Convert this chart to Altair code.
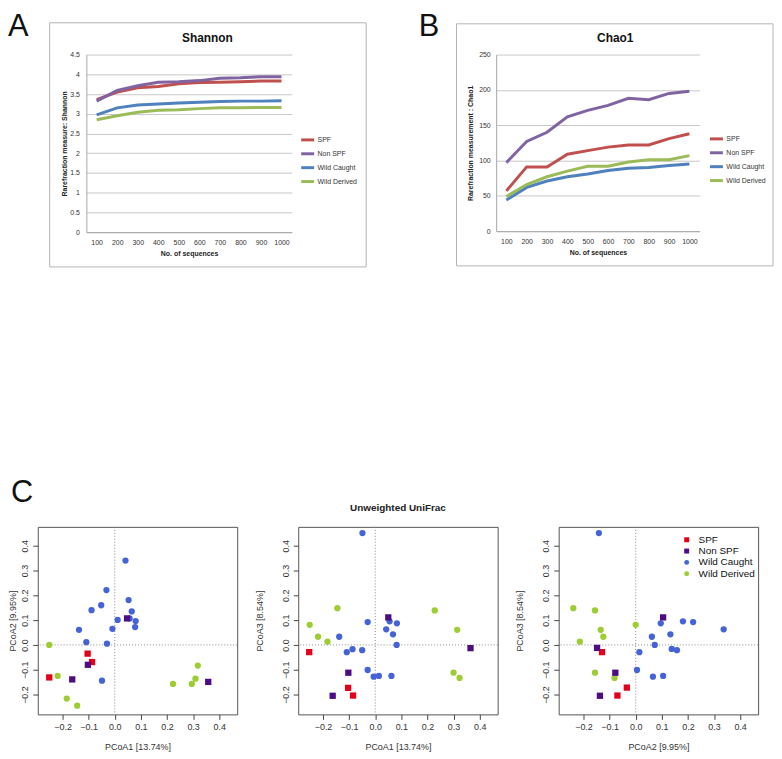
import altair as alt
import pandas as pd

FONT = "Liberation Sans"

# ---------------- data ----------------
seqs = [100, 200, 300, 400, 500, 600, 700, 800, 900, 1000]
groups = ["SPF", "Non SPF", "Wild Caught", "Wild Derived"]

shannon_spf = [3.36, 3.55, 3.66, 3.69, 3.76, 3.79, 3.80, 3.81, 3.83, 3.83]
shannon_nonspf = [3.32, 3.59, 3.71, 3.80, 3.81, 3.84, 3.90, 3.91, 3.94, 3.94]
shannon_wc = [2.97, 3.15, 3.22, 3.25, 3.27, 3.29, 3.31, 3.32, 3.32, 3.33]
shannon_wd = [2.85, 2.95, 3.04, 3.09, 3.10, 3.13, 3.15, 3.15, 3.16, 3.16]

chao_spf = [57, 91, 91, 109, 114, 119, 122, 122, 131, 138]
chao_nonspf = [97, 127, 140, 162, 171, 178, 188, 186, 195, 198]
chao_wc = [44, 62, 71, 77, 81, 86, 89, 90, 93, 95]
chao_wd = [49, 66, 77, 85, 92, 92, 98, 101, 101, 107]

shannon_ticks = [0, 0.5, 1, 1.5, 2, 2.5, 3, 3.5, 4, 4.5]
chao_ticks = [0, 50, 100, 150, 200, 250]
pcoa_ticks = [-0.2, -0.1, 0.0, 0.1, 0.2, 0.3, 0.4]

# PCoA1 vs PCoA2
p1_group = (["Wild Caught"] * 15 + ["Wild Derived"] * 8 + ["SPF"] * 3 + ["Non SPF"] * 4)
p1_x = [0.041, -0.032, 0.053, -0.052, -0.089, 0.065, 0.011, 0.057, 0.080, 0.078,
        -0.137, -0.009, -0.109, -0.030, -0.049,
        -0.251, -0.219, -0.184, -0.144, 0.223, 0.295, 0.309, 0.318,
        -0.104, -0.087, -0.251,
        0.047, -0.103, -0.163, 0.358]
p1_y = [0.340, 0.221, 0.181, 0.160, 0.140, 0.135, 0.101, 0.107, 0.096, 0.072,
        0.061, 0.065, 0.011, 0.005, -0.144,
        0.000, -0.125, -0.216, -0.245, -0.157, -0.157, -0.136, -0.083,
        -0.035, -0.069, -0.131,
        0.107, -0.080, -0.139, -0.149]

# PCoA1 vs PCoA3
p2_group = (["Wild Caught"] * 15 + ["Wild Derived"] * 8 + ["SPF"] * 3 + ["Non SPF"] * 4)
p2_x = [-0.049, -0.029, -0.138, -0.109, -0.087, -0.050, 0.042, 0.055, 0.083, 0.068,
        0.082, -0.029, -0.006, 0.014, 0.062,
        -0.251, -0.219, -0.183, -0.145, 0.228, 0.314, 0.300, 0.323,
        -0.253, -0.104, -0.085,
        0.050, -0.103, -0.163, 0.365]
p2_y = [0.451, 0.092, 0.033, -0.029, -0.017, -0.021, 0.063, 0.095, 0.087, 0.043,
        0.000, -0.101, -0.128, -0.125, -0.125,
        0.081, 0.033, 0.013, 0.148, 0.139, 0.061, -0.112, -0.133,
        -0.029, -0.173, -0.204,
        0.111, -0.112, -0.205, -0.013]

# PCoA2 vs PCoA3
p3_group = (["Wild Caught"] * 14 + ["Wild Derived"] * 8 + ["SPF"] * 3 + ["Non SPF"] * 4)
p3_x = [-0.141, 0.096, 0.181, 0.220, 0.337, 0.062, 0.133, 0.073, 0.014, 0.138,
        0.158, 0.005, 0.066, 0.105,
        -0.239, -0.156, -0.134, -0.124, -0.214, 0.000, -0.156, -0.081,
        -0.129, -0.034, -0.070,
        0.105, -0.148, -0.078, -0.137]
p3_y = [0.451, 0.087, 0.095, 0.092, 0.063, 0.033, 0.043, 0.000, -0.029, -0.016,
        -0.021, -0.101, -0.128, -0.125,
        0.148, 0.139, 0.061, 0.033, 0.013, 0.081, -0.112, -0.133,
        -0.029, -0.172, -0.204,
        0.111, -0.012, -0.112, -0.205]

excel_colors = ["#C0504D", "#8064A2", "#4F81BD", "#9BBB59"]
r_colors = ["#E3001B", "#4B0C86", "#4563D6", "#9DCC33"]
r_shapes = ["square", "square", "circle", "circle"]

one = pd.DataFrame({"k": [0]})
origin = pd.DataFrame({"x": [0.0], "y": [0.0]})


def long_df(series):
    rows = []
    for g, vals in zip(groups, series):
        for s, v in zip(seqs, vals):
            rows.append({"seq": s, "group": g, "value": v})
    return pd.DataFrame(rows)


def text_layer(txt, x, y, size, weight="normal", align="left", baseline="alphabetic", opacity=1.0, color="#111"):
    return alt.Chart(one).mark_text(
        text=txt, fontSize=size, fontWeight=weight, align=align, baseline=baseline,
        font=FONT, color=color, opacity=opacity
    ).encode(x=alt.value(x), y=alt.value(y))


def excel_panel(df, title, ytitle, ymax, yticks, yfmt, letter, frame, w, h, leg, title_xy,
                letter_xy, ytitle_pad, ylabel_pad):
    frame_l = alt.Chart(one).mark_rect(filled=False, stroke="#B3B3B3", strokeWidth=1).encode(
        x=alt.value(frame[0]), x2=alt.value(frame[1]), y=alt.value(frame[2]), y2=alt.value(frame[3]))
    lines = alt.Chart(df).mark_line(strokeWidth=3).encode(
        x=alt.X("seq:O", scale=alt.Scale(type="point", padding=0.5),
                axis=alt.Axis(title="No. of sequences", labelAngle=0, labelFontSize=7, labelColor="#333",
                              titleFontSize=7, titleFontWeight="bold", titleColor="#222",
                              domainColor="#A6A6A6", ticks=False, tickSize=0, labelPadding=6,
                              titlePadding=5, grid=False)),
        y=alt.Y("value:Q", scale=alt.Scale(domain=[0, ymax], nice=False),
                axis=alt.Axis(values=yticks, format=yfmt, grid=True, gridColor="#C8C8C8",
                              domainColor="#A6A6A6", ticks=False, tickSize=0, labelFontSize=7,
                              labelColor="#333", labelPadding=ylabel_pad, title=ytitle,
                              titleFontSize=7, titleFontWeight="bold", titleColor="#222",
                              titlePadding=ytitle_pad)),
        color=alt.Color("group:N", scale=alt.Scale(domain=groups, range=excel_colors),
                        legend=alt.Legend(orient="none", legendX=leg[0], legendY=leg[1], title=None,
                                          symbolType="stroke", symbolStrokeWidth=3, symbolSize=169,
                                          labelFontSize=7, labelColor="#333", rowPadding=0,
                                          labelOffset=2)),
    )
    t = text_layer(title, title_xy[0], title_xy[1], 12, weight="bold", align="center", baseline="middle")
    l = text_layer(letter, letter_xy[0], letter_xy[1], 31)
    return alt.layer(frame_l, lines, t, l).properties(width=w, height=h)


XDOM = [-0.295, 0.469]
YDOM = [-0.28, 0.476]


def scatter_panel(xs, ys, gs, xtitle, ytitle, show_legend, ytitle_pad, extra):
    df = pd.DataFrame({"x": xs, "y": ys, "group": gs})
    if show_legend:
        leg = alt.Legend(orient="none", legendX=124, legendY=8, title=None, labelFontSize=10,
                         labelColor="#111", symbolSize=25, rowPadding=1.4, labelOffset=7)
    else:
        leg = None
    x_axis = alt.Axis(values=pcoa_ticks, format=".1f", labelFontSize=9, labelColor="#333",
                      labelOverlap=False, tickColor="#444", tickSize=5, domain=False,
                      grid=False, labelPadding=3, title=xtitle, titleFontSize=9,
                      titleFontWeight="normal", titleColor="#333", titlePadding=11)
    y_axis = alt.Axis(values=pcoa_ticks, format=".1f", labelFontSize=9, labelColor="#333",
                      labelAngle=270, labelAlign="center", labelBaseline="bottom",
                      labelOverlap=False, tickColor="#444", tickSize=5, domain=False,
                      grid=False, labelPadding=3, title=ytitle, titleFontSize=9,
                      titleFontWeight="normal", titleColor="#333", titlePadding=ytitle_pad)
    x_sc = alt.Scale(domain=XDOM, nice=False, zero=False)
    y_sc = alt.Scale(domain=YDOM, nice=False, zero=False)
    vr = alt.Chart(origin).mark_rule(color="#888", strokeDash=[1, 2], strokeWidth=1).encode(
        x=alt.X("x:Q", scale=x_sc, axis=x_axis))
    hr = alt.Chart(origin).mark_rule(color="#888", strokeDash=[1, 2], strokeWidth=1).encode(
        y=alt.Y("y:Q", scale=y_sc, axis=y_axis))
    pts = alt.Chart(df).mark_point(filled=True, size=40, opacity=1).encode(
        x=alt.X("x:Q", scale=x_sc, axis=x_axis),
        y=alt.Y("y:Q", scale=y_sc, axis=y_axis),
        color=alt.Color("group:N", scale=alt.Scale(domain=groups, range=r_colors), legend=leg),
        shape=alt.Shape("group:N", scale=alt.Scale(domain=groups, range=r_shapes), legend=leg),
    )
    return alt.layer(vr, hr, pts, *extra).properties(
        width=201, height=189, view=alt.ViewBackground(stroke="#555", strokeWidth=1))


shannon_df = long_df([shannon_spf, shannon_nonspf, shannon_wc, shannon_wd])
chao_df = long_df([chao_spf, chao_nonspf, chao_wc, chao_wd])

panel_a = excel_panel(shannon_df, "Shannon", "Rarefraction measure: Shannon", 4.5, shannon_ticks, "~g", "A",
                      (-37, 282, -32, 214), 207, 179, (215, 78), (122, -17), (-79, -19), 2, 7)
panel_b = excel_panel(chao_df, "Chao1", "Rarefraction measurement : Chao1", 250, chao_ticks, "d", "B",
                      (-40, 279, -31, 213), 205, 178, (214, 77), (120, -17), (-78, -19), 5, 6)

p1 = scatter_panel(p1_x, p1_y, p1_group, "PCoA1 [13.74%]", "PCoA2 [9.95%]", False, 3,
                   [text_layer("C", -27, -25, 31)])
p2 = scatter_panel(p2_x, p2_y, p2_group, "PCoA1 [13.74%]", "PCoA3 [8.54%]", False, 17,
                   [text_layer("Unweighted UniFrac", 100.5, -19, 10, weight="bold", align="center",
                               baseline="middle", color="#222")])
p3 = scatter_panel(p3_x, p3_y, p3_group, "PCoA2 [9.95%]", "PCoA3 [8.54%]", True, 17, [])

# invisible spacer that shifts the top row right of the bottom row's first panel
spacer = alt.Chart(one).mark_point(opacity=0).encode(
    x=alt.value(0), y=alt.value(0)).properties(width=49, height=10)

ab = alt.hconcat(panel_a, panel_b, spacing=206, bounds="flush").resolve_scale(
    x="independent", y="independent", color="independent").resolve_legend(color="independent")
top = alt.hconcat(spacer, ab, spacing=0, bounds="flush").resolve_scale(
    x="independent", y="independent", color="independent").resolve_legend(color="independent")
bottom = alt.hconcat(p1, p2, p3, spacing=61.5, bounds="flush").resolve_scale(
    x="independent", y="independent", color="independent", shape="independent").resolve_legend(
    color="independent", shape="independent")

chart = alt.vconcat(top, bottom, spacing=210).resolve_scale(
    x="independent", y="independent", color="independent", shape="independent").resolve_legend(
    color="independent", shape="independent").properties(padding=0).configure(
    font=FONT).configure_view(stroke=None).configure_axis(labelFont=FONT, titleFont=FONT).configure_legend(
    labelFont=FONT)

chart.save("out.html", embed_options={"renderer": "svg", "actions": False})
